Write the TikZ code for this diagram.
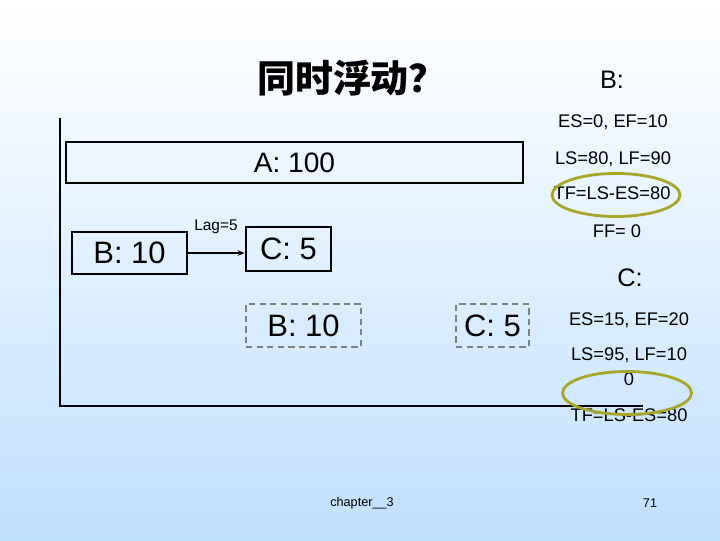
\documentclass[tikz,border=0pt]{standalone}
\usepackage{fontspec}
\setmainfont{Liberation Sans}
\newfontfamily\cjk{Noto Sans CJK SC}
\definecolor{SlideBlue}{HTML}{C0E0FF}
\definecolor{MarkOlive}{HTML}{A6A62A}
\definecolor{GhostGray}{HTML}{808080}
\usetikzlibrary{shapes.geometric, arrows.meta, positioning}
\tikzset{
    % solid activity bars
    activity/.style={
        rectangle,
        draw=black,
        line width=2pt,
        inner sep=0pt,
        align=center,
        font=\fontsize{22}{26}\selectfont
    },
    % shifted activities, dashed grey
    ghost activity/.style={
        activity,
        draw=GhostGray,
        dash pattern=on 4.5pt off 3pt
    },
    axis line/.style={
        line width=2pt,
        black
    },
    lag arrow/.style={
        -{Stealth[length=5pt, width=4pt]},
        line width=1.5pt,
        black
    },
    info text/.style={
        align=center,
        inner sep=0pt,
        font=\fontsize{13}{17.5}\selectfont
    },
    head text/.style={
        inner sep=0pt,
        font=\fontsize{18}{20}\selectfont
    },
    mark ellipse/.style={
        ellipse,
        draw=MarkOlive,
        line width=2pt,
        inner sep=0pt
    }
}
\begin{document}
\begin{tikzpicture}[x=0.025cm, y=-0.025cm]
        % background
        \shade[top color=white, bottom color=SlideBlue] (0,0) rectangle (720,540);
        \useasboundingbox (0,0) rectangle (720,540);

        % title
        \node[font=\cjk\bfseries\fontsize{27}{30}\selectfont] (title) at (352,78) {同时浮动？};

        % time axis
        \coordinate (axis-top) at (60,118);
        \coordinate (axis-origin) at (60,406);
        \coordinate (axis-end) at (643,406);
        \draw[axis line] (axis-top) -- (axis-origin) -- (axis-end);

        % activities
        \node[activity, minimum width=457*0.025cm, minimum height=41*0.025cm, font=\fontsize{20}{24}\selectfont] (a-bar) at (294.5,162.5) {A: 100};
        \node[activity, minimum width=115*0.025cm, minimum height=42*0.025cm] (b-act) at (129.5,253) {B: 10};
        \node[activity, minimum width=85*0.025cm, minimum height=44*0.025cm] (c-act) at (288.5,249) {C: 5};
        \draw[lag arrow] (b-act.east) -- (b-act.east -| c-act.west);
        \node[info text, font=\fontsize{11}{13}\selectfont] (lag-label) at (216,227) {Lag=5};

        \node[ghost activity, minimum width=115*0.025cm, minimum height=43*0.025cm] (b-ghost) at (303.5,325.5) {B: 10};
        \node[ghost activity, minimum width=73*0.025cm, minimum height=43*0.025cm] (c-ghost) at (492.5,325.5) {C: 5};

        % B times
        \node[head text] (b-head) at (612,80) {B:};
        \node[info text] (b-es) at (613,122) {ES=0, EF=10};
        \node[info text] (b-ls) at (613,159) {LS=80, LF=90};
        \node[info text] (b-tf) at (612,193) {TF=LS-ES=80};
        \node[info text] (b-ff) at (617,231) {FF= 0};
        \node[mark ellipse, minimum width=128*0.025cm, minimum height=43*0.025cm] (b-tf-mark) at (616,195) {};

        % C times
        \node[head text] (c-head) at (630,278) {C:};
        \node[info text] (c-es) at (629,320) {ES=15, EF=20};
        \node[info text] (c-ls) at (629,367) {LS=95, LF=10\\0};
        \node[info text] (c-tf) at (629,415) {TF=LS-ES=80};
        \node[mark ellipse, minimum width=129*0.025cm, minimum height=43*0.025cm] (c-tf-mark) at (627,393) {};

        % footer
        \node[font=\fontsize{9}{11}\selectfont] (chapter) at (362,503) {chapter\_\_3};
        \node[font=\fontsize{9}{11}\selectfont] (page) at (650,503) {71};
    \end{tikzpicture}
\end{document}
